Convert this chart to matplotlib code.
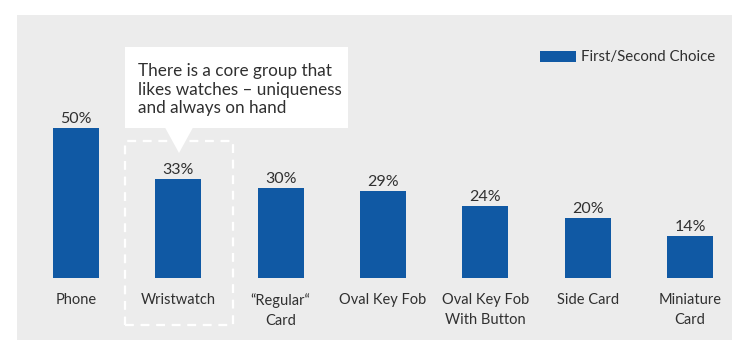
import matplotlib
matplotlib.use("Agg")
import matplotlib.pyplot as plt
from matplotlib.patches import Rectangle, Polygon, Patch

# data
categories = ["Phone", "Wristwatch", "\u201cRegular\u201c\nCard", "Oval Key Fob",
              "Oval Key Fob\nWith Button", "Side Card", "Miniature\nCard"]
values = [50, 33, 30, 29, 24, 20, 14]
value_labels = ["50%", "33%", "30%", "29%", "24%", "20%", "14%"]
series_name = "First/Second Choice"
callout_text = "There is a core group that\nlikes watches \u2013 uniqueness\nand always on hand"

BLUE = "#1059a4"
GRAY_BG = "#ececec"
TEXT = "#303030"

plt.rcParams["font.family"] = ["Lato", "DejaVu Sans"]

W, H = 732, 340
fig = plt.figure(figsize=(W / 100, H / 100), dpi=100, facecolor="white")

# grey panel
fig.patches.append(Rectangle((17 / W, 0), 1 - 17 / W, (H - 15) / H,
                             transform=fig.transFigure, facecolor=GRAY_BG,
                             edgecolor="none", zorder=-5))

ax = fig.add_axes([0, 0, 1, 1], zorder=2)
ax.set_facecolor("none")

# pixel layout: first bar centre at x=76, step 102.33 px; baseline y=278, 3 px per %
x0, step, y0, ppu = 76, 102.33, 278, 3.0
ax.set_xlim((0 - x0) / step, (W - x0) / step)
ax.set_ylim((y0 - H) / ppu, y0 / ppu)
ax.axis("off")


def px(x, y):
    return (x - x0) / step, (y0 - y) / ppu


xs = range(len(categories))
ax.bar(xs, values, width=46 / step, color=BLUE, zorder=3)

for i, (v, lab) in enumerate(zip(values, value_labels)):
    ax.text(i, v + 5 / ppu, lab, ha="center", va="baseline", fontsize=11.5,
            color=TEXT, zorder=4)
    ax.text(i, -14.8 / ppu, categories[i], ha="center", va="top", fontsize=10.5,
            color=TEXT, linespacing=1.6, zorder=4)

# dashed highlight round the wristwatch
(bx0, by0), (bx1, by1) = px(125, 325), px(233, 141)
ax.add_patch(Rectangle((bx0, by0), bx1 - bx0, by1 - by0, fill=False, edgecolor="white",
                       linestyle=(0, (4, 3)), linewidth=1.6, zorder=2))

# callout box with pointer
(cx0, cy0), (cx1, cy1) = px(125, 128), px(348, 47)
ax.add_patch(Rectangle((cx0, cy0), cx1 - cx0, cy1 - cy0, facecolor="white",
                       edgecolor="none", zorder=5))
ax.add_patch(Polygon([px(165, 127.5), px(193, 127.5), px(179, 153)], closed=True,
                     facecolor="white", edgecolor="none", zorder=5))
tx, ty = px(138, 63)
ax.text(tx, ty, callout_text, ha="left", va="top", fontsize=12.3, color=TEXT,
        linespacing=1.2, zorder=6)

# legend
ax.legend(handles=[Patch(facecolor=BLUE, label=series_name)], loc="upper right",
          bbox_to_anchor=(729 / W, 1 - 37 / H), frameon=False, fontsize=10.8,
          handlelength=2.4, handleheight=0.75, handletextpad=0.35, labelcolor=TEXT)

fig.savefig("out.png", dpi=100, facecolor="white")
